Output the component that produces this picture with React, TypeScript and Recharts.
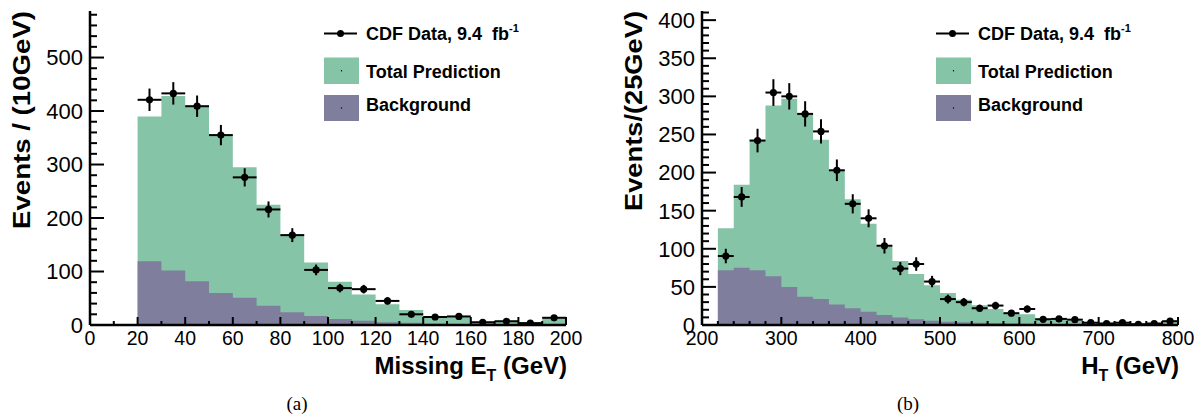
import { Area, ComposedChart, ErrorBar, Scatter, XAxis, YAxis } from 'recharts';

// Missing E_T panel (a): 10 GeV bins, 0-200
const metEdges = [0, 10, 20, 30, 40, 50, 60, 70, 80, 90, 100, 110, 120, 130, 140, 150, 160, 170, 180, 190, 200];
const metTotal = [0, 0, 390, 428, 410, 356, 295, 225, 169, 117, 81, 57, 39, 28, 16, 16, 7, 8, 5, 14];
const metBkg = [0, 0, 119, 102, 82, 60, 51, 36, 24, 17, 11, 8, 5, 4, 2.5, 2, 1.5, 1.2, 1, 1];
const metCenters = [25, 35, 45, 55, 65, 75, 85, 95, 105, 115, 125, 135, 145, 155, 165, 175, 185, 195];
const metData = [421, 433, 409, 355, 276, 216, 168, 103, 69, 67, 45, 20, 15, 16, 5, 7, 3.5, 13.5];
const metErr = [21, 21, 20, 19, 17, 15, 13, 10, 8, 8, 7, 4.5, 4, 4, 2, 2.6, 1.9, 3.7];

// H_T panel (b): 20 GeV bins, 220-800
const htEdges = [220, 240, 260, 280, 300, 320, 340, 360, 380, 400, 420, 440, 460, 480, 500, 520, 540, 560, 580, 600, 620, 640, 660, 680, 700, 720, 740, 760, 780, 800];
const htTotal = [127, 184, 243, 288, 297, 277, 243, 203, 165, 133, 103, 84, 67, 52, 42, 33, 26, 21, 15, 14, 9, 8, 6, 4, 3, 2.5, 2, 2, 4];
const htBkg = [72, 75, 72, 64, 50, 37, 34, 27, 22, 17.5, 13, 10, 7.5, 5.7, 4.4, 3.5, 3, 2.5, 2, 1.5, 1.2, 1, 1, 0.8, 0.6, 0.5, 0.4, 0.3, 0.3];
const htCenters = [230, 250, 270, 290, 310, 330, 350, 370, 390, 410, 430, 450, 470, 490, 510, 530, 550, 570, 590, 610, 630, 650, 670, 690, 710, 730, 750, 770, 790];
const htData = [90.5, 168, 242, 305, 300, 277, 254, 203, 159, 140, 104, 74, 80, 57, 34, 30, 22, 25.5, 15.5, 21, 7.5, 8, 7, 3, 2, 3, 1, 2, 5];
const htErr = [9.5, 13, 15.5, 17.5, 17.3, 16.6, 16, 14.2, 12.6, 11.8, 10.2, 8.6, 8.9, 7.5, 5.8, 5.5, 4.7, 5, 3.9, 4.6, 2.7, 2.8, 2.6, 1.7, 1.4, 1.7, 1, 1.4, 2.2];

const GREEN = '#85c4a7';
const PURPLE = '#7f7f9d';
const FONT = "'Liberation Sans', Arial, Helvetica, sans-serif";

const range = (from: number, to: number, step: number) => {
  const out: number[] = [];
  for (let v = from; v <= to + 1e-9; v += step) out.push(v);
  return out;
};

const isMult = (v: number, m: number) => Math.abs(v / m - Math.round(v / m)) < 1e-6;

const makeYTick = (major: number) => (props: any) => {
  const { x, y, payload } = props;
  const major_ = isMult(payload.value, major);
  return (
    <g>
      <line x1={x} x2={x + (major_ ? 14 : 7)} y1={y} y2={y} stroke="#000" strokeWidth={2} />
      {major_ && (
        <text x={x - 7} y={y} dy="0.36em" textAnchor="end" fontSize={22} fontFamily={FONT} fill="#000">
          {payload.value}
        </text>
      )}
    </g>
  );
};

const makeXTick = (major: number) => (props: any) => {
  const { x, y, payload } = props;
  const major_ = isMult(payload.value, major);
  return (
    <g>
      <line x1={x} x2={x} y1={y} y2={y - (major_ ? 8 : 4)} stroke="#000" strokeWidth={2} />
      {major_ && (
        <text x={x} y={y + 20} textAnchor="middle" fontSize={19.5} fontFamily={FONT} fill="#000">
          {payload.value}
        </text>
      )}
    </g>
  );
};

type TPanelProps = {
  left: number;
  edges: number[];
  total: number[];
  bkg: number[];
  centers: number[];
  data: number[];
  err: number[];
  halfBin: number;
  xDomain: [number, number];
  yMax: number;
  xTicks: number[];
  yTicks: number[];
  xMajor: number;
  yMajor: number;
};

const Panel = ({ left, edges, total, bkg, centers, data, err, halfBin, xDomain, yMax, xTicks, yTicks, xMajor, yMajor }: TPanelProps) => {
  const hist = edges.map((x, i) => ({
    x,
    total: total[Math.min(i, total.length - 1)],
    bkg: bkg[Math.min(i, bkg.length - 1)],
  }));
  const points = centers.map((x, i) => ({ x, y: data[i], ex: halfBin, ey: err[i] }));

  return (
    <div style={{ position: 'absolute', left, top: 0 }}>
      <ComposedChart width={600} height={415} data={hist} margin={{ top: 11, right: 34, bottom: 60, left: 0 }}>
        <Area type="stepAfter" dataKey="total" fill={GREEN} fillOpacity={1} stroke="none" isAnimationActive={false} />
        <Area type="stepAfter" dataKey="bkg" fill={PURPLE} fillOpacity={1} stroke="none" isAnimationActive={false} />
        <Scatter
          data={points}
          dataKey="y"
          isAnimationActive={false}
          shape={(p: any) => <circle cx={p.cx} cy={p.cy} r={3.6} fill="#000" />}
        >
          <ErrorBar dataKey="ey" direction="y" width={0} stroke="#000" strokeWidth={2} />
          <ErrorBar dataKey="ex" direction="x" width={0} stroke="#000" strokeWidth={2} />
        </Scatter>
        <XAxis
          dataKey="x"
          type="number"
          domain={xDomain}
          ticks={xTicks}
          interval={0}
          allowDataOverflow
          height={30}
          tickSize={0}
          tickMargin={0}
          tickLine={false}
          axisLine={{ stroke: '#000', strokeWidth: 2.5 }}
          tick={makeXTick(xMajor)}
        />
        <YAxis
          dataKey="y"
          type="number"
          domain={[0, yMax]}
          ticks={yTicks}
          interval={0}
          allowDataOverflow
          width={90}
          tickSize={0}
          tickMargin={0}
          tickLine={false}
          axisLine={{ stroke: '#000', strokeWidth: 2.5 }}
          tick={makeYTick(yMajor)}
        />
        <XAxis xAxisId="top" orientation="top" type="number" domain={[0, 1]} height={0} tick={false} tickLine={false} axisLine={{ stroke: '#000', strokeWidth: 2.5 }} />
        <YAxis yAxisId="right" orientation="right" type="number" domain={[0, 1]} width={0} tick={false} tickLine={false} axisLine={{ stroke: '#000', strokeWidth: 2.5 }} />
      </ComposedChart>
    </div>
  );
};

const LegendBlock = ({ x }: { x: number }) => (
  <g fontFamily={FONT} fontWeight="bold" fontSize={18} fill="#000">
    <line x1={x} x2={x + 33} y1={33.5} y2={33.5} stroke="#000" strokeWidth={2} />
    <circle cx={x + 16.5} cy={33.5} r={3.5} fill="#000" />
    <text x={x + 42} y={40}>
      CDF Data, 9.4{'\u00a0\u00a0'}fb<tspan dy={-8} fontSize={11}>-1</tspan>
    </text>
    <rect x={x} y={57.5} width={35} height={26.5} fill={GREEN} />
    <circle cx={x + 17.5} cy={70.7} r={0.7} fill="#000" />
    <text x={x + 42} y={78}>Total Prediction</text>
    <rect x={x} y={95} width={35} height={26} fill={PURPLE} />
    <circle cx={x + 17.5} cy={108} r={0.7} fill="#000" />
    <text x={x + 42} y={111}>Background</text>
  </g>
);

const App = () => (
  <div style={{ position: 'absolute', left: 0, top: 0, width: 1198, height: 415, background: '#fff', overflow: 'hidden' }}>
    <Panel
      left={0}
      edges={metEdges}
      total={metTotal}
      bkg={metBkg}
      centers={metCenters}
      data={metData}
      err={metErr}
      halfBin={5}
      xDomain={[0, 200]}
      yMax={587}
      xTicks={range(0, 200, 10)}
      yTicks={range(0, 580, 20)}
      xMajor={20}
      yMajor={100}
    />
    <Panel
      left={612}
      edges={htEdges}
      total={htTotal}
      bkg={htBkg}
      centers={htCenters}
      data={htData}
      err={htErr}
      halfBin={10}
      xDomain={[200, 800]}
      yMax={412}
      xTicks={range(200, 800, 20)}
      yTicks={range(0, 410, 10)}
      xMajor={100}
      yMajor={50}
    />
    <svg width={1198} height={415} style={{ position: 'absolute', left: 0, top: 0, pointerEvents: 'none' }}>
      <LegendBlock x={324} />
      <LegendBlock x={936} />
      <g fontFamily={FONT} fontWeight="bold" fontSize={24} fill="#000">
        <text transform="translate(30, 11) rotate(-90)" textAnchor="end" textLength={218} lengthAdjust="spacingAndGlyphs">
          Events / (10GeV)
        </text>
        <text transform="translate(642, 11) rotate(-90)" textAnchor="end" textLength={200} lengthAdjust="spacingAndGlyphs">
          Events/(25GeV)
        </text>
        <text x={567} y={374} textAnchor="end">
          Missing E<tspan dy={7} fontSize={16}>T</tspan>
          <tspan dy={-7}> (GeV)</tspan>
        </text>
        <text x={1179} y={374} textAnchor="end">
          H<tspan dy={7} fontSize={16}>T</tspan>
          <tspan dy={-7}> (GeV)</tspan>
        </text>
      </g>
      <g fontFamily="'Liberation Serif', 'DejaVu Serif', serif" fontSize={19} fill="#000" textAnchor="middle">
        <text x={297} y={410}>(a)</text>
        <text x={908} y={410}>(b)</text>
      </g>
    </svg>
  </div>
);

export default App;
